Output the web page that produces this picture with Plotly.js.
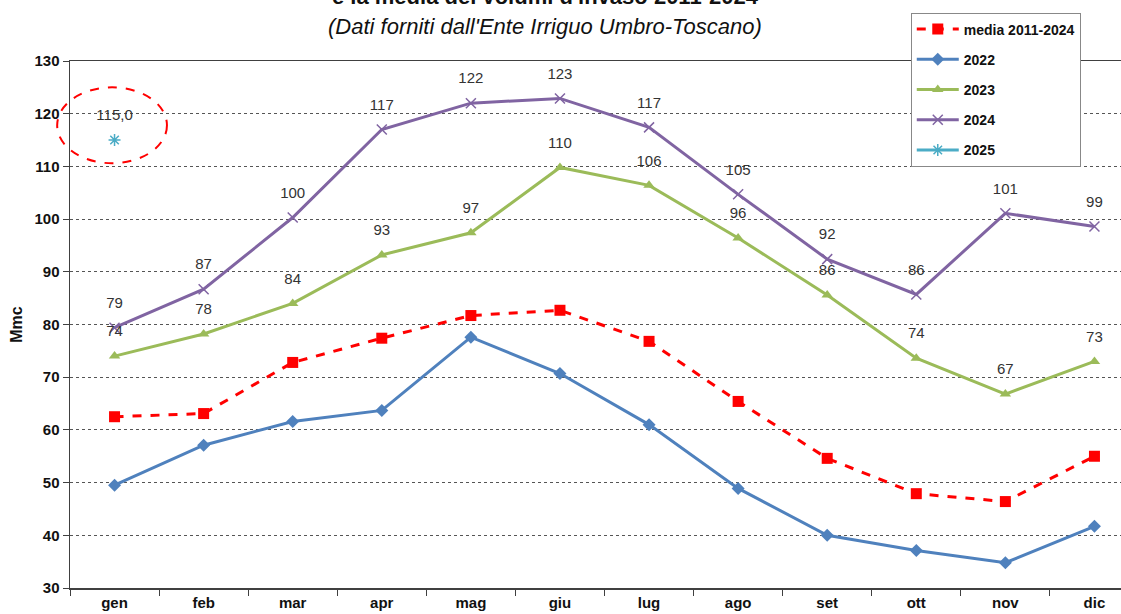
<!DOCTYPE html>
<html>
<head>
<meta charset="utf-8">
<script src="https://cdn.plot.ly/plotly-3.0.1.min.js"></script>
<style>html,body{margin:0;padding:0;background:#fff;overflow:hidden;width:1121px;height:614px;}#chart{width:1139px;height:614px;}</style>
</head>
<body>
<div id="chart"></div>
<script>
const months = ['gen','feb','mar','apr','mag','giu','lug','ago','set','ott','nov','dic'];
const media = [62.5, 63.1, 72.8, 77.4, 81.7, 82.7, 76.8, 65.4, 54.6, 47.9, 46.4, 55.0];
const y2022 = [49.5, 57.1, 61.6, 63.7, 77.6, 70.7, 61.0, 48.9, 40.0, 37.1, 34.8, 41.7];
const y2023 = [74.0, 78.2, 84.0, 93.2, 97.4, 109.8, 106.4, 96.4, 85.6, 73.6, 66.8, 73.0];
const y2024 = [79.4, 86.7, 100.3, 117.0, 122.0, 122.9, 117.4, 104.7, 92.4, 85.7, 101.1, 98.6];
const months2025 = ['gen'];
const y2025 = [115.0];

const labelFont = {family: 'Liberation Sans, Arial, sans-serif', size: 15, color: '#333'};

function labels(x, y, fmt) {
  return {x: x, y: y, mode: 'markers+text', showlegend: false, hoverinfo: 'skip',
    texttemplate: fmt, textposition: 'top center', textfont: labelFont, cliponaxis: false,
    marker: {size: 24, opacity: 0, color: '#fff'}};
}

const traces = [
  {x: months, y: media, name: 'media 2011-2024', legendgroup: 'a', mode: 'lines+markers',
   line: {color: '#FF0000', width: 3, dash: 'dash'}, marker: {symbol: 'square', size: 11, color: '#FF0000'}},
  {x: months, y: y2022, name: '2022', legendgroup: 'b', mode: 'lines+markers',
   line: {color: '#4F81BD', width: 3}, marker: {symbol: 'diamond', size: 10, color: '#4F81BD'}},
  {x: months, y: y2023, name: '2023', legendgroup: 'c', mode: 'lines+markers',
   line: {color: '#9BBB59', width: 3}, marker: {symbol: 'triangle-up', size: 10, color: '#9BBB59'}},
  {x: months, y: y2024, name: '2024', legendgroup: 'd', mode: 'lines+markers',
   line: {color: '#8064A2', width: 3}, marker: {symbol: 'x-thin-open', size: 10, color: '#8064A2', line: {width: 1.5, color: '#8064A2'}}},
  {x: months2025, y: y2025, name: '2025', legendgroup: 'e', mode: 'lines+markers',
   line: {color: '#4BACC6', width: 3}, marker: {symbol: 'asterisk-open', size: 10, color: '#4BACC6', line: {width: 1.5, color: '#4BACC6'}}},
  labels(months, y2023, '%{y:.0f}'),
  labels(months, y2024, '%{y:.0f}'),
  labels(months2025, y2025, '%{y:.1f}')
];

const tickFont = {family: 'Liberation Sans, Arial, sans-serif', size: 15, color: '#111', weight: 'bold'};

const layout = {
  width: 1139, height: 614,
  separators: ',.',
  margin: {l: 70, r: 0, t: 61, b: 26, pad: 0},
  paper_bgcolor: '#fff', plot_bgcolor: '#fff',
  font: {family: 'Liberation Sans, Arial, sans-serif', color: '#111'},
  showlegend: true,
  legend: {
    x: 0.7865, y: 1.092, xanchor: 'left', yanchor: 'top',
    bgcolor: '#fff', bordercolor: '#888', borderwidth: 1,
    font: {family: 'Liberation Sans, Arial, sans-serif', size: 14, color: '#111', weight: 'bold'},
    tracegroupgap: 9, traceorder: 'grouped', itemwidth: 42
  },
  xaxis: {
    type: 'category', categoryarray: months, categoryorder: 'array',
    range: [-0.5, 11.5], tickson: 'boundaries', ticks: 'outside', ticklen: 6, tickcolor: '#404040',
    showline: true, mirror: true, linecolor: '#404040', linewidth: 1.5,
    showgrid: false, zeroline: false,
    tickfont: tickFont
  },
  yaxis: {
    range: [30, 130], dtick: 10, ticks: 'outside', ticklen: 6, tickcolor: '#404040',
    showline: true, linecolor: '#404040', linewidth: 1.5,
    showgrid: true, gridcolor: '#555', griddash: 'dot', gridwidth: 1, zeroline: false,
    tickfont: tickFont,
    title: {text: 'Mmc', standoff: 8, font: {family: 'Liberation Sans, Arial, sans-serif', size: 16, color: '#111', weight: 'bold'}}
  },
  shapes: [
    {type: 'circle', xref: 'paper', yref: 'paper', x0: -0.012, x1: 0.0907, y0: 0.806, y1: 0.950,
     line: {color: '#FF0000', width: 2, dash: 'dash'}}
  ],
  annotations: [
    {xref: 'paper', yref: 'paper', x: 0.445, y: 1.123, xanchor: 'center', yanchor: 'middle', showarrow: false,
     text: "<b>e la media dei volumi d'invaso 2011-2024</b>",
     font: {family: 'Liberation Sans, Arial, sans-serif', size: 22, color: '#111'}},
    {xref: 'paper', yref: 'paper', x: 0.444, y: 1.066, xanchor: 'center', yanchor: 'middle', showarrow: false,
     text: "<i>(Dati forniti dall'Ente Irriguo Umbro-Toscano)</i>",
     font: {family: 'Liberation Sans, Arial, sans-serif', size: 22, color: '#111'}}
  ]
};

Plotly.newPlot('chart', traces, layout, {displayModeBar: false, staticPlot: true});
</script>
</body>
</html>
